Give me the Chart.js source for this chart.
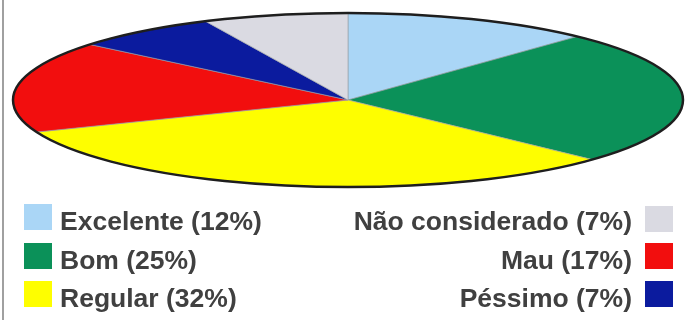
<!DOCTYPE html>
<html>
<head>
<meta charset="utf-8">
<script src="https://cdn.jsdelivr.net/npm/chart.js@4"></script>
<style>
  html, body { margin: 0; padding: 0; background: #fff; }
  #wrap { position: relative; width: 685px; height: 320px; overflow: hidden; background: #fff; }
  #edge { position: absolute; left: 2px; top: 0; width: 2px; height: 320px; background: #a0a0a0; }
  #pie { position: absolute; left: 0; top: 0; }
  .label { position: absolute; font: bold 26.5px "Liberation Sans", Arial, sans-serif; line-height: 1;
           color: #404040; white-space: nowrap; }
  .box { position: absolute; width: 28px; height: 26px; }
</style>
</head>
<body>
<div id="wrap">
  <canvas id="pie" width="685" height="700"></canvas>
  <div id="edge"></div>
</div>
<script>
// Survey answers and their share of responses (%)
const categories = ['Excelente', 'Bom', 'Regular', 'Mau', 'Péssimo', 'Não considerado'];
const percentages = [12, 25, 32, 17, 7, 7];
const sliceColors = ['#aad6f6', '#0b9159', '#fefe00', '#f20e0e', '#0b1b9e', '#dadae2'];

// Legend columns (indices into categories)
const legendLeft = [0, 1, 2];
const legendRight = [5, 3, 4];

// Flattened pie: vertical squash factor and where its centre sits
const TILT = 0.26;
const PIE_CENTER_Y = 100;

const flattenPie = {
  id: 'flattenPie',
  beforeDatasetsDraw(chart) {
    const arc = chart.getDatasetMeta(0).data[0];
    const ctx = chart.ctx;
    ctx.save();
    ctx.translate(arc.x, PIE_CENTER_Y);
    ctx.scale(1, TILT);
    ctx.translate(-arc.x, -arc.y);
  },
  afterDatasetsDraw(chart) {
    const arc = chart.getDatasetMeta(0).data[0];
    const ctx = chart.ctx;
    ctx.restore();
    ctx.save();
    ctx.beginPath();
    ctx.ellipse(arc.x, PIE_CENTER_Y, arc.outerRadius, arc.outerRadius * TILT, 0, 0, Math.PI * 2);
    ctx.lineWidth = 2.5;
    ctx.strokeStyle = '#1e1e1e';
    ctx.stroke();
    ctx.restore();
  }
};

new Chart(document.getElementById('pie'), {
  type: 'pie',
  data: {
    labels: categories,
    datasets: [{
      data: percentages,
      backgroundColor: sliceColors,
      borderColor: '#9aa0a8',
      borderWidth: 1,
      radius: 335
    }]
  },
  options: {
    responsive: false,
    animation: false,
    layout: { padding: { left: 11 } },
    plugins: { legend: { display: false }, tooltip: { enabled: false } }
  },
  plugins: [flattenPie]
});

// Two-column legend: left column box-then-text, right column text-then-box
const wrap = document.getElementById('wrap');
const rowTops = [208, 247, 285];
const boxTops = [204, 243, 281];
function addItem(i, row, side) {
  const text = document.createElement('div');
  text.className = 'label';
  text.textContent = categories[i] + ' (' + percentages[i] + '%)';
  text.style.top = rowTops[row] + 'px';
  const box = document.createElement('div');
  box.className = 'box';
  box.style.background = sliceColors[i];
  box.style.top = (boxTops[row] + (side === 'right' && row === 0 ? 2 : 0)) + 'px';
  if (side === 'left') {
    box.style.left = '24px';
    text.style.left = '60px';
  } else {
    box.style.left = '645px';
    text.style.right = '53px';
  }
  wrap.appendChild(box);
  wrap.appendChild(text);
}
legendLeft.forEach((i, r) => addItem(i, r, 'left'));
legendRight.forEach((i, r) => addItem(i, r, 'right'));
</script>
</body>
</html>
